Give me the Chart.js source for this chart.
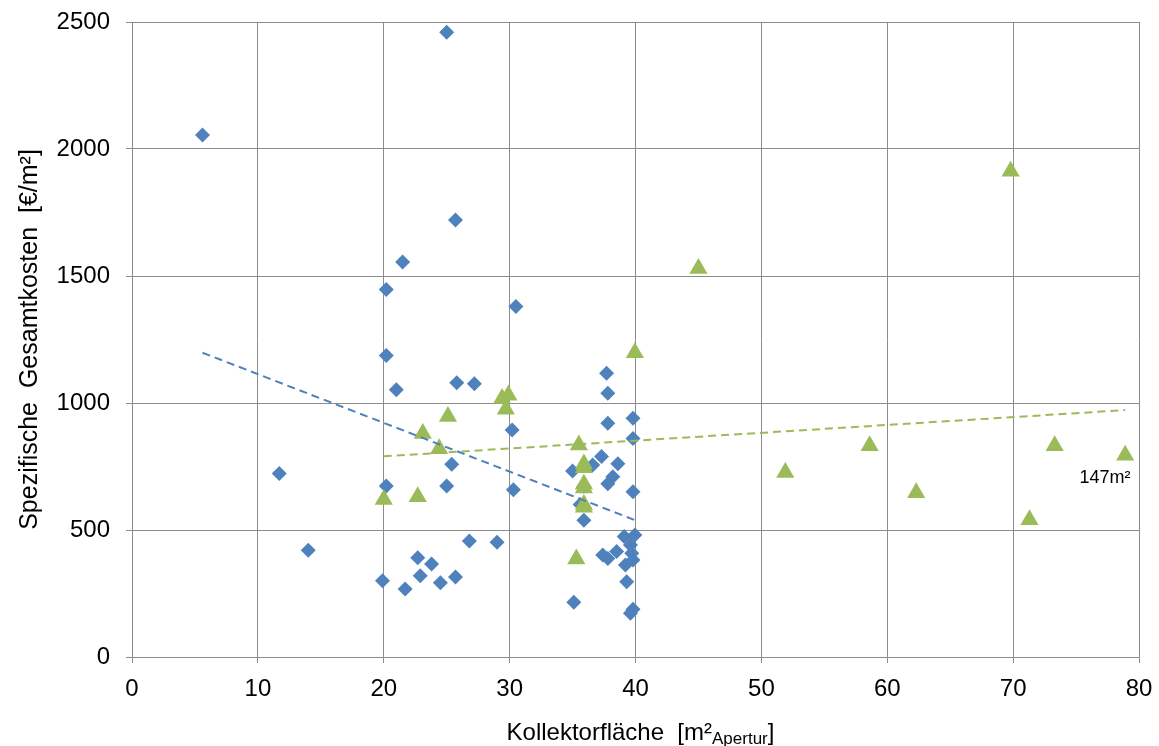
<!DOCTYPE html>
<html><head><meta charset="utf-8">
<script src="https://cdn.jsdelivr.net/npm/chart.js@4.4.0/dist/chart.umd.min.js"></script>
<style>html,body{margin:0;padding:0;background:#fff}#wrap{width:1159px;height:746px;position:relative}</style>
</head><body><div id="wrap"><canvas id="c" width="1159" height="746"></canvas></div>
<script>
// Series A (blue diamonds): collector area [m²] and specific cost [€/m²]
const blueX = [5.6,25.0,11.7,14.0,19.9,20.2,20.2,20.2,21.0,21.5,21.7,22.7,22.9,23.8,24.5,25.0,25.4,25.7,25.7,25.8,27.2,26.8,29.0,30.2,30.3,30.5,35.1,35.0,
  37.7,37.8,37.8,39.8,39.8,37.3,36.6,38.6,38.2,37.8,39.8,35.9,35.6,35.9,
  39.1,39.95,37.4,37.8,38.5,39.6,39.7,39.8,39.2,39.3,39.8,39.6];
const blueY = [2055,2460,722,420,300,673,1187,1447,1052,1555,268,391,320,366,292,673,759,315,1720,1080,1076,457,452,894,658,1380,216,732,
  1117,1038,920,940,860,789,756,761,710,682,651,672,600,538,
  474,480,402,388,415,441,408,382,362,296,188,172];
// Series B (green triangles)
const greenX = [20.0,22.7,23.1,24.4,25.1,29.4,29.9,29.7,35.5,35.9,35.9,35.9,35.9,35.9,35.9,35.3,39.95,45.0,51.9,58.6,62.3,69.8,71.3,73.3,78.9];
const greenY = [620,631,880,820,947,1018,1031,975,835,760,745,680,665,600,590,386,1198,1530,726,832,647,1912,540,832,794];
// Linear trend lines (endpoints)
const blueTrendX = [5.6, 39.9];
const blueTrendY = [1198, 540];
const greenTrendX = [20.0, 78.9];
const greenTrendY = [790, 972];
// Axis ticks
const xTicks = [0,10,20,30,40,50,60,70,80];
const yTicks = [0,500,1000,1500,2000,2500];
const annotX = 77.3, annotY = 705, annotText = '147m²';

const zip = (xs, ys) => xs.map((x, i) => ({x, y: ys[i]}));
const FONT = "'Liberation Sans', Arial, sans-serif";

const labelsPlugin = {
  id: 'labels',
  afterDraw(chart) {
    const {ctx, scales:{x, y}, chartArea} = chart;
    ctx.save();
    ctx.fillStyle = '#000';
    // annotation
    ctx.font = '18px ' + FONT;
    ctx.textAlign = 'center'; ctx.textBaseline = 'middle';
    ctx.fillText(annotText, x.getPixelForValue(annotX), y.getPixelForValue(annotY));
    // x title with subscript
    const big = '24px ' + FONT, small = '17px ' + FONT;
    const p1 = 'Kollektorfläche  [m²', p2 = 'Apertur', p3 = ']';
    ctx.font = big; const w1 = ctx.measureText(p1).width, w3 = ctx.measureText(p3).width;
    ctx.font = small; const w2 = ctx.measureText(p2).width;
    const total = w1 + w2 + w3;
    let sx = (chartArea.left + chartArea.right) / 2 + 5 - total / 2;
    const base = 740;
    ctx.textAlign = 'left'; ctx.textBaseline = 'alphabetic';
    ctx.font = big; ctx.fillText(p1, sx, base); sx += w1;
    ctx.font = small; ctx.fillText(p2, sx, base + 4); sx += w2;
    ctx.font = big; ctx.fillText(p3, sx, base);
    ctx.restore();
  }
};

new Chart(document.getElementById('c'), {
  type: 'scatter',
  data: {
    datasets: [
      {label: 'A', data: zip(blueX, blueY), pointStyle: 'rectRot', pointRadius: 7.5, pointHoverRadius: 7.5,
       backgroundColor: '#4F81BD', borderColor: '#4F81BD', borderWidth: 0, order: 2},
      {label: 'B', data: zip(greenX, greenY), pointStyle: 'triangle', pointRadius: 10.5, pointHoverRadius: 10.5,
       backgroundColor: '#9BBB59', borderColor: '#9BBB59', borderWidth: 0, order: 1},
      {type: 'line', label: 'TA', data: zip(blueTrendX, blueTrendY), borderColor: '#4F81BD', borderWidth: 2,
       borderDash: [8, 5], pointRadius: 0, fill: false, order: 0},
      {type: 'line', label: 'TB', data: zip(greenTrendX, greenTrendY), borderColor: '#9BBB59', borderWidth: 2,
       borderDash: [8, 5], pointRadius: 0, fill: false, order: 0}
    ]
  },
  options: {
    responsive: false, animation: false, devicePixelRatio: 1,
    layout: {padding: {left: 0, right: 20, top: 22, bottom: 0}},
    plugins: {legend: {display: false}, tooltip: {enabled: false}},
    scales: {
      x: {
        type: 'linear', min: 0, max: 80,
        afterBuildTicks: s => { s.ticks = xTicks.map(v => ({value: v})); },
        afterFit: s => { s.height = 89; s.paddingLeft = 0; s.paddingRight = 0; },
        grid: {color: '#8c8c8c', lineWidth: 1, tickLength: 6, drawTicks: true},
        border: {color: '#8c8c8c', width: 1},
        ticks: {color: '#000', font: {family: FONT, size: 24}, padding: 12, maxRotation: 0,
                callback: v => String(v)}
      },
      y: {
        type: 'linear', min: 0, max: 2500,
        afterBuildTicks: s => { s.ticks = yTicks.map(v => ({value: v})); },
        afterFit: s => { s.width = 132; s.paddingTop = 0; s.paddingBottom = 0; },
        grid: {color: '#8c8c8c', lineWidth: 1, tickLength: 6, drawTicks: true},
        border: {color: '#8c8c8c', width: 1},
        ticks: {color: '#000', font: {family: FONT, size: 24}, padding: 16, callback: v => String(v)},
        title: {display: true, text: 'Spezifische  Gesamtkosten  [€/m²]', color: '#000',
                font: {family: FONT, size: 25}, padding: {top: 15, bottom: 0}}
      }
    }
  },
  plugins: [labelsPlugin]
});
</script></body></html>
